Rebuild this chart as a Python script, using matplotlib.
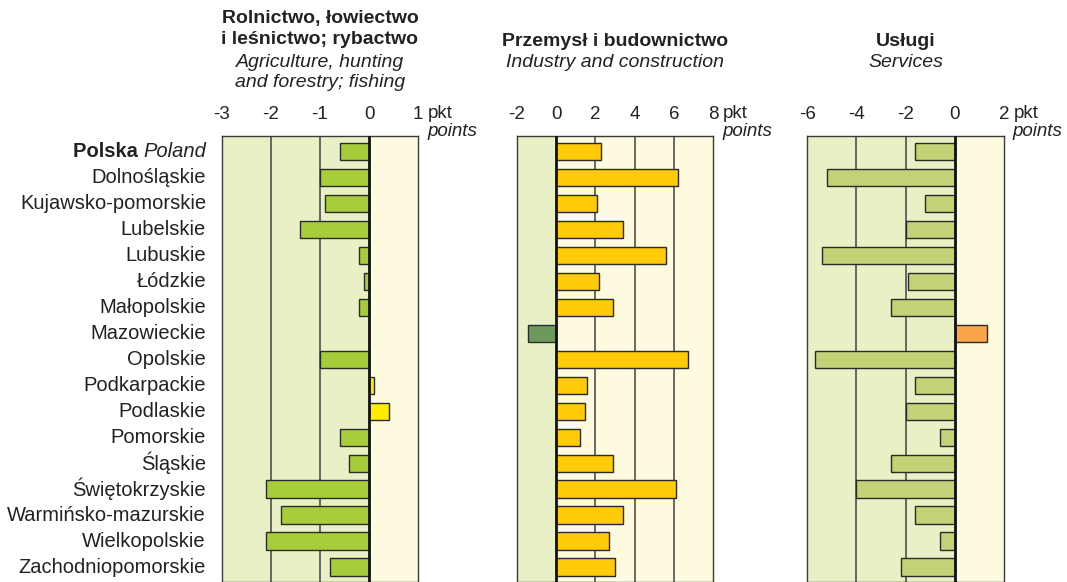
import matplotlib
matplotlib.use("Agg")
import matplotlib.pyplot as plt

plt.rcParams['font.family'] = ['Liberation Sans', 'DejaVu Sans']

regions = ["Poland", "Dolnośląskie", "Kujawsko-pomorskie", "Lubelskie", "Lubuskie",
           "Łódzkie", "Małopolskie", "Mazowieckie", "Opolskie", "Podkarpackie",
           "Podlaskie", "Pomorskie", "Śląskie", "Świętokrzyskie",
           "Warmińsko-mazurskie", "Wielkopolskie", "Zachodniopomorskie"]

agriculture = [-0.6, -1.0, -0.9, -1.4, -0.2, -0.1, -0.2, 0.0, -1.0, 0.1, 0.4,
               -0.6, -0.4, -2.1, -1.8, -2.1, -0.8]
industry = [2.3, 6.2, 2.1, 3.4, 5.6, 2.2, 2.9, -1.4, 6.7, 1.6, 1.5, 1.2, 2.9,
            6.1, 3.4, 2.7, 3.0]
services = [-1.6, -5.2, -1.2, -2.0, -5.4, -1.9, -2.6, 1.3, -5.7, -1.6, -2.0,
            -0.6, -2.6, -4.0, -1.6, -0.6, -2.2]

ticks1 = [-3, -2, -1, 0, 1]
ticks2 = [-2, 0, 2, 4, 6, 8]
ticks3 = [-6, -4, -2, 0, 2]

titles = [
    ("Rolnictwo, łowiectwo\ni leśnictwo; rybactwo", "Agriculture, hunting\nand forestry; fishing"),
    ("Przemysł i budownictwo", "Industry and construction"),
    ("Usługi", "Services"),
]

W, H = 1067, 582
fig = plt.figure(figsize=(W / 100, H / 100), dpi=100)

FS = 13.5
FS_LAB = 14.5
FS_TITLE = 14
TXT = "#222222"
NEG_BG = "#eaf0c6"
POS_BG = "#fefadf"

panels = [
    (221.7, agriculture, ticks1),
    (516.7, industry, ticks2),
    (807.3, services, ticks3),
]
pos_colors = {0: ("#a8cd3a", "#ffed00"), 1: ("#6a9a5c", "#ffca08"), 2: ("#c4d277", "#f9a64a")}

top_px = 135.7
ax_w = 196.5
n = len(regions)
y = list(range(n))
axes = []
for i, (left, vals, ticks) in enumerate(panels):
    ax = fig.add_axes([left / W, 0, ax_w / W, (H - top_px) / H])
    axes.append(ax)
    xmin, xmax = ticks[0], ticks[-1]
    ax.set_xlim(xmin, xmax)
    ax.set_ylim(n - 0.43, -0.6)
    ax.axvspan(xmin, 0, color=NEG_BG, zorder=0, lw=0)
    ax.axvspan(0, xmax, color=POS_BG, zorder=0, lw=0)
    for t in ticks[1:-1]:
        if t != 0:
            ax.axvline(t, color="#505050", lw=1.2, zorder=1)
    negc, posc = pos_colors[i]
    cols = [negc if v < 0 else posc for v in vals]
    ax.barh(y, vals, height=0.67, color=cols, edgecolor="#2a2a2a", lw=1.0, zorder=2)
    ax.axvline(0, color="#111111", lw=2.0, zorder=3)
    ax.xaxis.tick_top()
    ax.set_xticks(ticks)
    ax.set_xticklabels([str(t) for t in ticks], fontsize=FS, color=TXT)
    ax.tick_params(axis="x", length=0, pad=9)
    ax.set_yticks([])
    for s in ax.spines.values():
        s.set_color("#3a3a3a")
        s.set_linewidth(1.0)
    right_px = left + ax_w
    fig.text((right_px + 10) / W, 1 - 113 / H, "pkt", fontsize=FS, color=TXT,
             ha="left", va="center")
    fig.text((right_px + 9) / W, 1 - 131 / H, "points", fontsize=FS, style="italic",
             color=TXT, ha="left", va="center")
    cx = (left + ax_w / 2) / W
    pl, en = titles[i]
    if i == 0:
        fig.text(cx, 1 - 29 / H, pl, fontsize=FS_TITLE, fontweight="bold", ha="center",
                 va="center", linespacing=1.25, color=TXT)
        fig.text(cx, 1 - 72.5 / H, en, fontsize=FS_TITLE, style="italic", ha="center",
                 va="center", linespacing=1.25, color=TXT)
    else:
        fig.text(cx, 1 - 41 / H, pl, fontsize=FS_TITLE, fontweight="bold", ha="center",
                 va="center", color=TXT)
        fig.text(cx, 1 - 62.5 / H, en, fontsize=FS_TITLE, style="italic", ha="center",
                 va="center", color=TXT)

ax0 = axes[0]
lx = (206 - 221.7) / ax_w
for k, name in enumerate(regions):
    if k == 0:
        t = ax0.text(lx, k, name, transform=ax0.get_yaxis_transform(), ha="right",
                     va="center", fontsize=FS_LAB, style="italic", color=TXT)
        ax0.annotate("Polska ", xy=(0, 0.5), xycoords=t, ha="right", va="center",
                     fontsize=FS_LAB, fontweight="bold", color=TXT)
    else:
        ax0.text(lx, k, name, transform=ax0.get_yaxis_transform(), ha="right",
                 va="center", fontsize=FS_LAB, color=TXT)

fig.savefig("out.png", dpi=100)
